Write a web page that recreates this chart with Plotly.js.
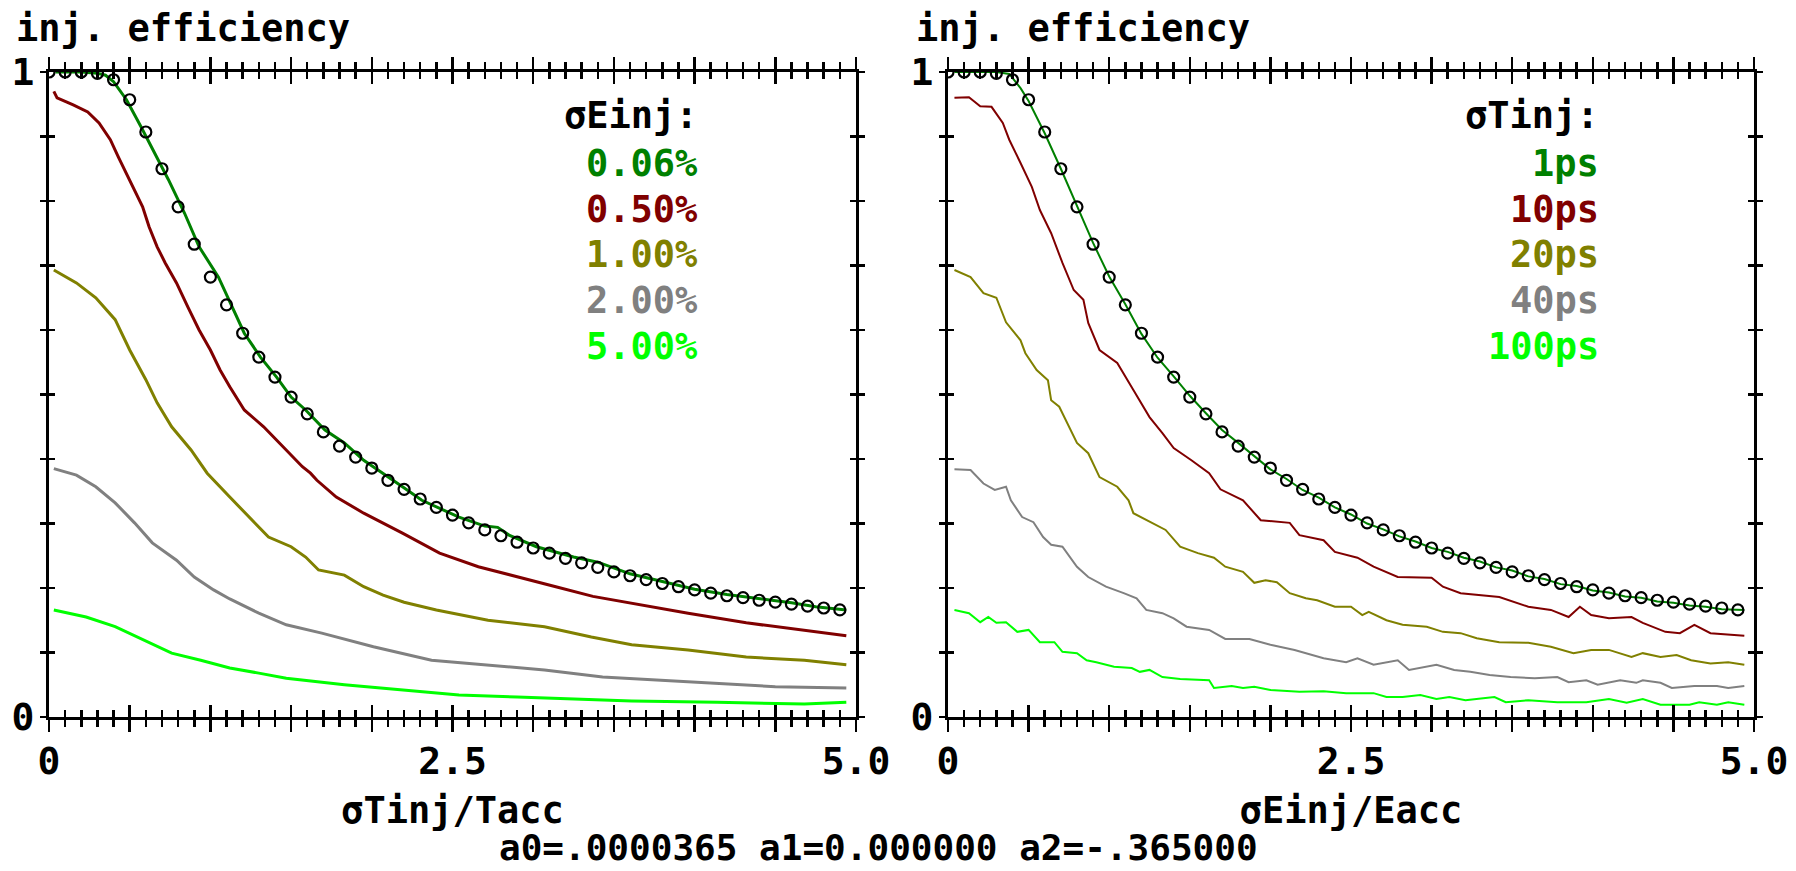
<!DOCTYPE html>
<html><head><meta charset="utf-8">
<script src="https://cdn.plot.ly/plotly-3.0.1.min.js"></script>
<style>html,body{margin:0;padding:0;background:#fff;}#chart{width:1796px;height:871px;}</style>
</head><body><div id="chart"></div>
<script>
// ---------- data ----------
const leftLabels = ['0.06%', '0.50%', '1.00%', '2.00%', '5.00%'];
const rightLabels = ['1ps', '10ps', '20ps', '40ps', '100ps'];
const seriesColors = ['#008000', '#800000', '#808000', '#808080', '#00ff00'];
const leftHeader = 'σEinj:';
const rightHeader = 'σTinj:';
const leftXTitle = 'σTinj/Tacc';
const rightXTitle = 'σEinj/Eacc';
const yTitle = 'inj. efficiency';
const footer = 'a0=.0000365 a1=0.000000 a2=-.365000';
const xTickVals = [0, 0.5, 1, 1.5, 2, 2.5, 3, 3.5, 4, 4.5, 5];
const xTickText = ['0', '', '', '', '', '2.5', '', '', '', '', '5.0'];
const yTickVals = [0, 0.1, 0.2, 0.3, 0.4, 0.5, 0.6, 0.7, 0.8, 0.9, 1];
const yTickText = ['0', '', '', '', '', '', '', '', '', '', '1'];

// fit points (open circles), same in both panels
const fitX = [0,0.1,0.2,0.3,0.4,0.5,0.6,0.7,0.8,0.9,1.0,1.1,1.2,1.3,1.4,1.5,1.6,1.7,1.8,1.9,2.0,2.1,2.2,2.3,2.4,2.5,2.6,2.7,2.8,2.9,3.0,3.1,3.2,3.3,3.4,3.5,3.6,3.7,3.8,3.9,4.0,4.1,4.2,4.3,4.4,4.5,4.6,4.7,4.8,4.9];
const fitY = [1.0,1.0,1.0,0.998,0.988,0.957,0.907,0.850,0.791,0.733,0.682,0.639,0.595,0.558,0.527,0.496,0.470,0.442,0.420,0.403,0.386,0.367,0.353,0.338,0.325,0.313,0.301,0.290,0.281,0.271,0.262,0.254,0.246,0.239,0.232,0.225,0.219,0.213,0.207,0.202,0.197,0.192,0.188,0.185,0.181,0.178,0.175,0.172,0.169,0.166];

// left panel (x = sigma Tinj / Tacc)
const lGreenX = [0.04,0.1,0.2,0.3,0.35,0.4,0.48,0.57,0.67,0.74,0.84,0.93,1.05,1.11,1.21,1.31,1.41,1.50,1.59,1.71,1.83,1.95,2.07,2.19,2.31,2.54,2.70,2.78,2.85,3.02,3.25,3.40,3.60,3.80,4.00,4.20,4.40,4.60,4.75,4.94];
const lGreenY = [1.0,1.0,1.0,0.998,0.995,0.985,0.957,0.915,0.868,0.833,0.781,0.729,0.682,0.650,0.595,0.558,0.527,0.496,0.476,0.445,0.425,0.398,0.378,0.357,0.336,0.310,0.296,0.294,0.282,0.264,0.248,0.240,0.222,0.210,0.198,0.190,0.184,0.177,0.171,0.166];
const lRedX = [0.03,0.05,0.15,0.24,0.31,0.38,0.43,0.48,0.53,0.58,0.62,0.67,0.72,0.79,0.86,0.93,1.0,1.06,1.12,1.21,1.33,1.45,1.57,1.62,1.66,1.78,1.95,2.19,2.42,2.66,2.90,3.14,3.37,3.70,3.96,4.32,4.68,4.94];
const lRedY = [0.970,0.960,0.949,0.938,0.921,0.895,0.868,0.843,0.817,0.791,0.760,0.729,0.704,0.673,0.636,0.600,0.569,0.538,0.512,0.476,0.450,0.419,0.388,0.378,0.367,0.341,0.316,0.285,0.254,0.233,0.217,0.202,0.187,0.172,0.161,0.146,0.135,0.126];
const lOliveX = [0.03,0.17,0.29,0.41,0.50,0.60,0.67,0.76,0.88,0.98,1.12,1.24,1.36,1.50,1.59,1.67,1.83,1.95,2.07,2.20,2.40,2.72,3.07,3.36,3.61,3.96,4.32,4.68,4.94];
const lOliveY = [0.693,0.673,0.650,0.616,0.569,0.523,0.487,0.450,0.414,0.378,0.341,0.310,0.279,0.264,0.248,0.228,0.220,0.202,0.189,0.178,0.166,0.150,0.140,0.124,0.112,0.104,0.093,0.088,0.081];
const lGrayX = [0.03,0.17,0.29,0.41,0.53,0.64,0.79,0.90,1.02,1.12,1.30,1.47,1.69,2.01,2.37,2.72,3.07,3.43,3.79,4.14,4.50,4.94];
const lGrayY = [0.385,0.375,0.357,0.332,0.301,0.270,0.243,0.217,0.197,0.183,0.161,0.143,0.130,0.109,0.088,0.081,0.073,0.062,0.057,0.053,0.047,0.045];
const lLimeX = [0.03,0.23,0.41,0.59,0.76,0.94,1.12,1.30,1.47,1.83,2.19,2.54,2.90,3.25,3.61,4.14,4.68,4.94];
const lLimeY = [0.166,0.155,0.140,0.119,0.099,0.088,0.076,0.068,0.060,0.050,0.042,0.034,0.031,0.028,0.025,0.023,0.020,0.023];

// right panel (x = sigma Einj / Eacc)
const rGreenX = [0.04,0.1,0.2,0.3,0.38,0.45,0.5,0.6,0.7,0.8,0.9,1.0,1.1,1.2,1.3,1.4,1.5,1.6,1.7,1.8,1.9,2.0,2.1,2.2,2.3,2.4,2.5,2.6,2.7,2.8,2.9,3.0,3.1,3.2,3.3,3.4,3.5,3.6,3.7,3.8,3.9,4.0,4.1,4.2,4.3,4.4,4.5,4.6,4.7,4.8,4.94];
const rGreenY = [1.0,1.0,1.0,1.0,0.997,0.975,0.955,0.905,0.850,0.792,0.735,0.683,0.640,0.594,0.557,0.528,0.498,0.471,0.445,0.425,0.404,0.384,0.369,0.352,0.340,0.325,0.314,0.300,0.291,0.280,0.272,0.262,0.256,0.247,0.241,0.232,0.227,0.218,0.214,0.206,0.203,0.196,0.193,0.187,0.185,0.179,0.177,0.173,0.171,0.167,0.166];
const rRedX = [0.04,0.13,0.20,0.27,0.34,0.38,0.45,0.52,0.57,0.64,0.71,0.78,0.84,0.87,0.94,1.05,1.15,1.25,1.33,1.40,1.51,1.62,1.69,1.83,1.94,2.12,2.18,2.33,2.40,2.54,2.64,2.79,3.00,3.07,3.18,3.32,3.42,3.60,3.74,3.85,3.92,3.99,4.10,4.24,4.31,4.45,4.54,4.63,4.73,4.94];
const rRedY = [0.960,0.961,0.947,0.946,0.921,0.895,0.859,0.822,0.786,0.750,0.704,0.662,0.647,0.611,0.569,0.549,0.507,0.465,0.440,0.417,0.398,0.378,0.353,0.336,0.305,0.301,0.282,0.274,0.256,0.247,0.233,0.217,0.216,0.202,0.192,0.189,0.186,0.171,0.166,0.155,0.171,0.158,0.153,0.155,0.146,0.132,0.130,0.143,0.130,0.126];
const rOliveX = [0.04,0.14,0.22,0.30,0.36,0.45,0.48,0.55,0.62,0.64,0.69,0.75,0.80,0.87,0.94,1.05,1.12,1.15,1.26,1.35,1.44,1.55,1.65,1.72,1.83,1.90,1.97,2.04,2.12,2.22,2.29,2.40,2.50,2.57,2.61,2.72,2.82,2.97,3.07,3.18,3.28,3.42,3.60,3.74,3.88,3.99,4.10,4.24,4.31,4.42,4.52,4.61,4.73,4.84,4.94];
const rOliveY = [0.693,0.682,0.657,0.650,0.612,0.584,0.564,0.538,0.522,0.491,0.481,0.450,0.425,0.409,0.372,0.357,0.336,0.316,0.302,0.290,0.264,0.254,0.247,0.233,0.225,0.208,0.212,0.209,0.192,0.184,0.181,0.171,0.171,0.158,0.163,0.150,0.143,0.140,0.132,0.130,0.122,0.116,0.115,0.109,0.099,0.104,0.104,0.093,0.099,0.093,0.096,0.088,0.083,0.085,0.081];
const rGrayX = [0.04,0.14,0.22,0.29,0.36,0.39,0.46,0.53,0.59,0.64,0.71,0.80,0.87,0.98,1.09,1.17,1.23,1.33,1.40,1.48,1.62,1.72,1.87,2.00,2.15,2.22,2.33,2.47,2.54,2.64,2.79,2.86,3.03,3.14,3.24,3.36,3.49,3.64,3.78,3.85,3.96,4.03,4.17,4.27,4.31,4.42,4.49,4.63,4.77,4.84,4.94];
const rGrayY = [0.384,0.383,0.362,0.352,0.357,0.336,0.310,0.302,0.279,0.267,0.264,0.233,0.217,0.202,0.192,0.184,0.166,0.161,0.153,0.140,0.135,0.121,0.121,0.112,0.104,0.099,0.091,0.085,0.091,0.081,0.088,0.073,0.081,0.073,0.070,0.065,0.062,0.060,0.062,0.054,0.057,0.050,0.057,0.053,0.057,0.053,0.045,0.048,0.048,0.045,0.048];
const rLimeX = [0.04,0.13,0.20,0.25,0.30,0.36,0.43,0.50,0.57,0.66,0.71,0.80,0.86,0.92,1.03,1.14,1.19,1.25,1.33,1.44,1.62,1.65,1.76,1.83,1.90,2.00,2.18,2.33,2.47,2.64,2.72,2.82,2.93,3.03,3.11,3.21,3.32,3.39,3.46,3.60,3.78,3.96,4.10,4.21,4.31,4.42,4.60,4.66,4.77,4.84,4.94];
const rLimeY = [0.166,0.161,0.147,0.155,0.146,0.147,0.132,0.135,0.116,0.116,0.101,0.099,0.088,0.085,0.078,0.076,0.070,0.073,0.062,0.059,0.057,0.045,0.048,0.045,0.047,0.042,0.039,0.040,0.037,0.037,0.031,0.031,0.034,0.028,0.031,0.026,0.029,0.031,0.023,0.026,0.023,0.023,0.028,0.022,0.028,0.019,0.019,0.023,0.019,0.023,0.019];

// ---------- build ----------
const W = 1796, H = 871;
const FONT = 'DejaVu Sans Mono';
const px = v => v / W;
const py = v => 1 - v / H;

const leftSeries = [[lGreenX, lGreenY], [lRedX, lRedY], [lOliveX, lOliveY], [lGrayX, lGrayY], [lLimeX, lLimeY]];
const rightSeries = [[rGreenX, rGreenY], [rRedX, rRedY], [rOliveX, rOliveY], [rGrayX, rGrayY], [rLimeX, rLimeY]];

const traces = [];
leftSeries.forEach((s, i) => traces.push({
  type: 'scatter', mode: 'lines', x: s[0], y: s[1], name: leftLabels[i],
  xaxis: 'x', yaxis: 'y', line: {color: seriesColors[i], width: 3}, showlegend: false
}));
traces.push({type: 'scatter', mode: 'markers', x: fitX, y: fitY, name: 'fit', xaxis: 'x', yaxis: 'y',
  marker: {symbol: 'circle-open', size: 11, color: '#000', line: {width: 2.2, color: '#000'}}, showlegend: false});
rightSeries.forEach((s, i) => traces.push({
  type: 'scatter', mode: 'lines', x: s[0], y: s[1], name: rightLabels[i],
  xaxis: 'x2', yaxis: 'y2', line: {color: seriesColors[i], width: 2}, showlegend: false
}));
traces.push({type: 'scatter', mode: 'markers', x: fitX, y: fitY, name: 'fit', xaxis: 'x2', yaxis: 'y2',
  marker: {symbol: 'circle-open', size: 11, color: '#000', line: {width: 2.2, color: '#000'}}, showlegend: false});
// empty traces to register the overlay (inside-tick) axes
traces.push({type: 'scatter', mode: 'lines', x: [], y: [], xaxis: 'x3', yaxis: 'y3', showlegend: false, hoverinfo: 'skip'});
traces.push({type: 'scatter', mode: 'lines', x: [], y: [], xaxis: 'x4', yaxis: 'y4', showlegend: false, hoverinfo: 'skip'});

const tickFont = {family: FONT, size: 38, color: '#000', weight: 'bold'};
const titleFont = {family: FONT, size: 37, color: '#000', weight: 'bold'};

function xAxis(domain, anchor, title) {
  return {
    domain: domain, anchor: anchor, range: [0, 5], fixedrange: true,
    showline: true, linewidth: 3, linecolor: '#000', mirror: 'ticks',
    ticks: 'outside', ticklen: 12, tickwidth: 2.5, tickcolor: '#000',
    tickmode: 'array', tickvals: xTickVals, ticktext: xTickText,
    tickfont: tickFont, ticklabelstandoff: -4,
    minor: {dtick: 0.1, tick0: 0, ticks: 'outside', ticklen: 7, tickwidth: 2.5, tickcolor: '#000', showgrid: false},
    showgrid: false, zeroline: false,
    title: {text: title, font: titleFont, standoff: 16}
  };
}
function xOverlay(over, anchor) {
  return {
    overlaying: over, anchor: anchor, range: [0, 5], fixedrange: true,
    showline: false, mirror: 'ticks',
    ticks: 'inside', ticklen: 12, tickwidth: 2.5, tickcolor: '#000',
    tickmode: 'array', tickvals: xTickVals, showticklabels: false,
    minor: {dtick: 0.1, tick0: 0, ticks: 'inside', ticklen: 7, tickwidth: 2.5, tickcolor: '#000', showgrid: false},
    showgrid: false, zeroline: false
  };
}
function yAxis(anchor) {
  return {
    domain: [1 - 717 / H, 1 - 72 / H], anchor: anchor, range: [0, 1], fixedrange: true,
    showline: true, linewidth: 3, linecolor: '#000', mirror: 'ticks',
    ticks: 'outside', ticklen: 6, tickwidth: 2.5, tickcolor: '#000',
    tickmode: 'array', tickvals: yTickVals, ticktext: yTickText,
    tickfont: tickFont, ticklabelstandoff: -2,
    showgrid: false, zeroline: false
  };
}
function yOverlay(over, anchor) {
  return {
    overlaying: over, anchor: anchor, range: [0, 1], fixedrange: true,
    showline: false, mirror: 'ticks',
    ticks: 'inside', ticklen: 6, tickwidth: 2.5, tickcolor: '#000',
    tickmode: 'array', tickvals: yTickVals, showticklabels: false,
    showgrid: false, zeroline: false
  };
}

const annotations = [];
function ann(text, x, y, color, xanchor, font, yanchor) {
  annotations.push({text: text, x: px(x), y: py(y), xref: 'paper', yref: 'paper',
    xanchor: xanchor, yanchor: yanchor || 'middle', showarrow: false,
    font: Object.assign({}, font || titleFont, {color: color})});
}
ann(yTitle, 14, 28, '#000', 'left');
ann(yTitle, 914, 28, '#000', 'left');
ann(leftHeader, 700, 116, '#000', 'right');
ann(rightHeader, 1601, 116, '#000', 'right');
const legY = [163, 209, 255, 300, 347];
leftLabels.forEach((t, i) => ann(t, 700, legY[i], seriesColors[i], 'right'));
rightLabels.forEach((t, i) => ann(t, 1601, legY[i], seriesColors[i], 'right'));
ann(footer, 878, 870, '#000', 'center', {family: FONT, size: 36, weight: 'bold'}, 'bottom');

const layout = {
  width: W, height: H, margin: {l: 0, r: 0, t: 0, b: 0, pad: 0},
  paper_bgcolor: '#fff', plot_bgcolor: '#fff', showlegend: false,
  xaxis: xAxis([49 / W, 856 / W], 'y', leftXTitle),
  yaxis: yAxis('x'),
  xaxis2: xAxis([948 / W, 1754 / W], 'y2', rightXTitle),
  yaxis2: yAxis('x2'),
  xaxis3: xOverlay('x', 'y'),
  yaxis3: yOverlay('y', 'x'),
  xaxis4: xOverlay('x2', 'y2'),
  yaxis4: yOverlay('y2', 'x2'),
  annotations: annotations
};

Plotly.newPlot('chart', traces, layout, {displayModeBar: false, staticPlot: true});
</script>
</body></html>
